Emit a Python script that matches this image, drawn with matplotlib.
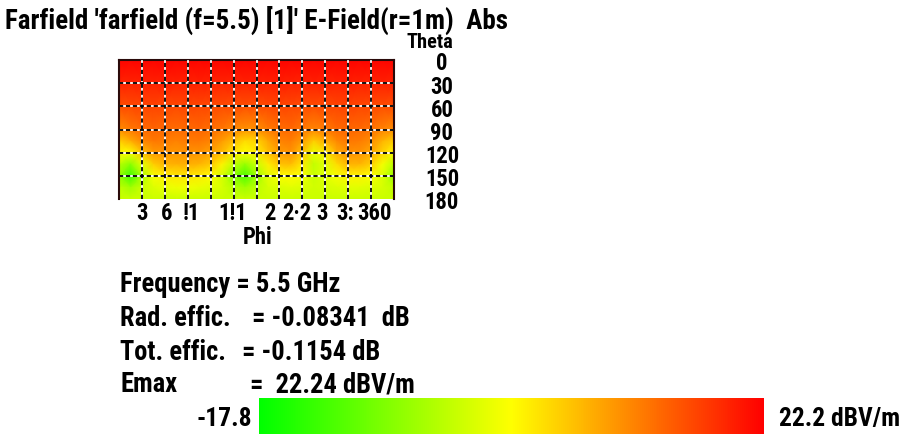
import numpy as np
import matplotlib
matplotlib.use('Agg')
import matplotlib.pyplot as plt
from matplotlib import rcParams, font_manager
from matplotlib.colors import LinearSegmentedColormap

# pick a narrow face if we have one, else condensed DejaVu
fl = font_manager.fontManager.ttflist
names = {f.name for f in fl}
FAM = 'DejaVu Sans'
for cand in ['Liberation Sans Narrow', 'Roboto Condensed', 'Open Sans Condensed', 'DejaVu Sans Condensed']:
    if cand in names:
        FAM = cand
        break
cond = [f for f in fl if f.name == 'DejaVu Sans' and f.stretch in ('condensed', 'semi-condensed', 600, 500)]
rcParams['font.family'] = [FAM, 'DejaVu Sans']
rcParams['font.weight'] = 'bold'
if FAM == 'DejaVu Sans' and cond:
    rcParams['font.stretch'] = 'condensed'
rcParams['lines.scale_dashes'] = False

# farfield data, E-field abs in dBV/m
phi = np.arange(0, 361, 15)
theta = np.array([0, 30, 60, 90, 105, 120, 135, 150, 165, 180])
E = np.array([
    [21.8]*25,
    [19.5, 19.3, 19.6, 19.4, 19.7, 19.5, 19.4, 19.6, 19.5, 19.3, 19.5, 19.4, 19.6, 19.5, 19.7, 19.4, 19.5, 19.6, 19.4, 19.5, 19.7, 19.4, 19.5, 19.6, 19.5],
    [16.0, 16.3, 16.6, 16.8, 16.5, 16.4, 16.7, 16.5, 16.3, 16.2, 16.0, 15.8, 15.9, 16.4, 16.7, 16.5, 16.2, 16.0, 16.3, 16.6, 16.8, 16.5, 16.3, 16.1, 16.0],
    [11.0, 12.6, 13.8, 14.2, 14.0, 13.6, 13.9, 14.1, 13.6, 12.8, 11.6, 10.5, 10.8, 12.4, 13.6, 14.0, 12.8, 11.5, 12.6, 13.8, 14.2, 13.9, 13.2, 11.8, 11.0],
    [6.0, 8.5, 11.5, 12.8, 12.5, 12.0, 12.6, 12.8, 11.8, 10.0, 7.5, 5.0, 5.5, 9.0, 11.8, 12.5, 10.0, 6.0, 8.5, 11.5, 12.8, 12.5, 11.0, 8.0, 6.0],
    [2.5, 2.0, 7.0, 10.0, 10.5, 10.3, 10.7, 10.5, 9.5, 7.5, 4.0, 2.0, 3.5, 7.0, 10.0, 10.5, 7.0, 0.5, 3.5, 8.5, 10.7, 10.5, 9.0, 5.5, 2.5],
    [-3.0, -7.0, 0.0, 6.0, 8.0, 8.3, 8.5, 8.0, 6.5, 3.0, -2.5, -6.0, -2.0, 3.5, 7.0, 7.5, 4.0, -2.5, 0.0, 5.0, 8.0, 8.0, 6.0, 1.5, -3.0],
    [-6.0, -13.0, -4.5, 1.5, 3.5, 4.0, 4.0, 3.5, 2.5, -1.0, -7.0, -12.0, -5.5, 0.0, 2.0, 2.5, 1.5, -2.0, 0.0, 1.5, 3.0, 3.0, 2.0, -0.5, -6.0],
    [-2.5, -5.0, -2.0, -0.5, 0.5, 1.0, 1.0, 0.5, 0.0, -1.0, -3.5, -5.0, -3.0, -1.0, -0.5, 0.0, -0.5, -1.5, -1.0, -0.5, 0.0, 0.0, -0.5, -1.0, -2.5],
    [-2.0]*25,
])
vmin, vmax = -17.8, 22.2
grid_phi = np.arange(30, 360, 30)
grid_theta = np.arange(30, 180, 30)
theta_ticks = [0, 30, 60, 90, 120, 150, 180]
# phi labels overlap in the original, this is what is left of them
phi_lab_pos = [30, 62, 94, 149, 198, 233, 266, 296, 335]
phi_lab_txt = ['3', '6', '!1', '1!1', '2', '2\u00b72', '3', '3:', '360']

title = "Farfield 'farfield (f=5.5) [1]' E-Field(r=1m)  Abs"
info_lab = ['Rad. effic.', 'Tot. effic.', 'Emax']
info_val = ['= -0.08341  dB', '= -0.1154 dB', '=  22.24 dBV/m']
freq_txt = 'Frequency = 5.5 GHz'

cmap = LinearSegmentedColormap.from_list('cst', ['#00ff00', '#ffff00', '#ff0000'])

W, H = 906, 434
fig = plt.figure(figsize=(W/100, H/100), dpi=100)

def fx(x): return x/W
def fy(y): return 1 - y/H

# scale all font sizes so the title is as wide as in the reference
renderer = fig.canvas.get_renderer()
probe = fig.text(0, 0, title, fontsize=16.5)
tw = probe.get_window_extent(renderer).width
probe.remove()
k = min(1.3, 503.0 / tw)
fs_title, fs_txt, fs_cb, fs_tick = 16.5*k, 16.2*k, 15.6*k, 13.8*k

ax = fig.add_axes([fx(119), fy(199), 275/W, 139/H])
P, T = np.meshgrid(phi, theta)
mesh = ax.pcolormesh(P, T, E, cmap=cmap, vmin=vmin, vmax=vmax, shading='gouraud')
ax.set_xlim(0, 360)
ax.set_ylim(180, 0)
for g in grid_phi:
    ax.axvline(g, color='white', lw=1.3, zorder=3)
    ax.axvline(g, color='black', lw=1.3, ls=(0, (3, 2)), zorder=4)
for g in grid_theta:
    ax.axhline(g, color='white', lw=1.3, zorder=3)
    ax.axhline(g, color='black', lw=1.3, ls=(0, (3, 2)), zorder=4)
for s in ['left', 'right', 'top']:
    ax.spines[s].set_color('#2a0a0a')
    ax.spines[s].set_linewidth(1.5)
ax.spines['bottom'].set_visible(False)
ax.set_yticks([])
ax.set_xticks(phi_lab_pos)
ax.set_xticklabels(phi_lab_txt, fontsize=fs_tick)
ax.tick_params(axis='x', length=0, pad=2)

# theta labels on the right, a bit below the lines
for t in theta_ticks:
    ax.text(1.1745, t + 5, str(t), transform=ax.get_yaxis_transform(),
            ha='center', va='center', fontsize=fs_tick)

fig.text(fx(5), fy(20), title, fontsize=fs_title, ha='left', va='center', zorder=1)
fig.text(fx(430), fy(43), 'Theta', fontsize=fs_tick*0.9, ha='center', va='center', zorder=2)
fig.text(fx(258), fy(237), 'Phi', fontsize=fs_tick, ha='center', va='center')

fig.text(fx(120), fy(284), freq_txt, fontsize=fs_txt, ha='left', va='center')
val_x = [252, 242, 250]
row_y = [318, 352, 385]
for lab, val, vx, ry in zip(info_lab, info_val, val_x, row_y):
    fig.text(fx(120), fy(ry), lab, fontsize=fs_txt, ha='left', va='center')
    fig.text(fx(vx), fy(ry), val, fontsize=fs_txt, ha='left', va='center')

cax = fig.add_axes([fx(259), fy(434), 505/W, 36/H])
cb = fig.colorbar(mesh, cax=cax, orientation='horizontal')
cb.outline.set_visible(False)
cax.set_xticks([])
cax.set_yticks([])
fig.text(fx(252), fy(419), '%.1f' % vmin, fontsize=fs_cb, ha='right', va='center')
fig.text(fx(779), fy(419), '%.1f dBV/m' % vmax, fontsize=fs_cb, ha='left', va='center')

fig.savefig('out.png', dpi=100, facecolor='white')
